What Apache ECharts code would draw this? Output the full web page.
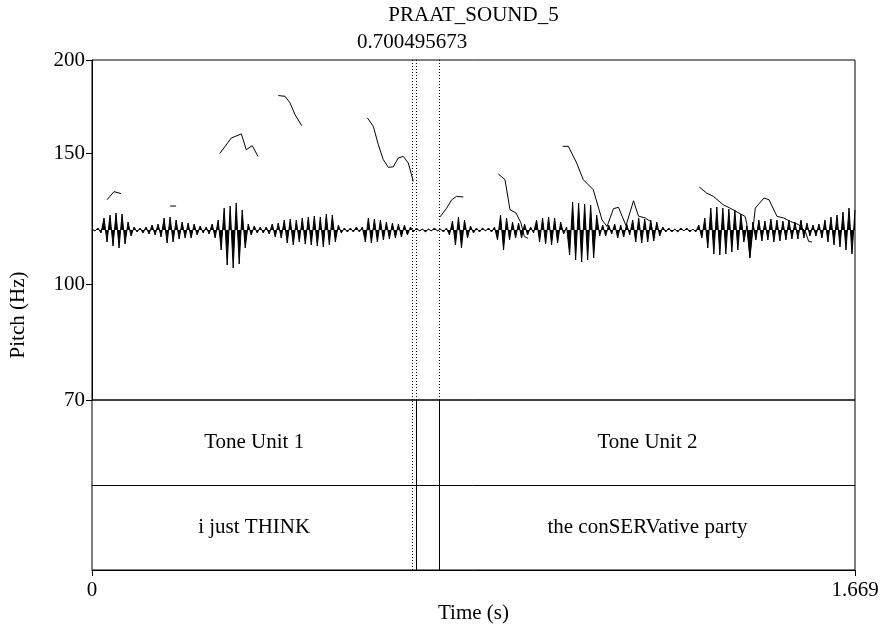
<!DOCTYPE html>
<html>
<head>
<meta charset="utf-8">
<script src="https://cdn.jsdelivr.net/npm/echarts@6/dist/echarts.min.js"></script>
<style>
  html, body { margin: 0; padding: 0; background: #fff; }
  #chart { width: 887px; height: 630px; }
</style>
</head>
<body>
<div id="chart"></div>
<script>
// --- data ---
const duration = 1.669
const cursorTime = 0.700495673
const pitchTicks = [70, 100, 150, 200]
const timeTicks = [0, 1.669]

// pitch contour pieces, [time s, Hz]
const pitchA = [[0.0328, 129.9], [0.0481, 133.2], [0.0634, 132.4]]
const pitchB = [[0.171, 127.4], [0.184, 127.4]]
const pitchC = [[0.2793, 149.8], [0.3047, 157.2], [0.3266, 159.2], [0.3375, 151.6], [0.3506, 153.5], [0.3631, 148.5]]
const pitchD = [[0.4075, 179.2], [0.4222, 178.8], [0.4331, 175.2], [0.4440, 169.0], [0.4587, 163.3]]
const pitchE = [[0.6022, 167.3], [0.6153, 163.0], [0.6263, 154.0], [0.6372, 147.0], [0.6481, 143.6], [0.6591, 143.8],
  [0.6700, 147.8], [0.6809, 148.5], [0.6919, 145.5], [0.7028, 137.5]]
const pitchF = [[0.7612, 123.2], [0.7759, 126.6], [0.7868, 129.9], [0.7977, 131.3], [0.8122, 131.0]]
const pitchG = [[0.8887, 140.7], [0.9034, 138.2], [0.9143, 126.0], [0.9275, 124.7], [0.9384, 120.9], [0.9456, 116.0], [0.9537, 115.3]]
const pitchH = [[1.0296, 153.2], [1.0419, 153.2], [1.0602, 145.5], [1.0747, 138.2], [1.0965, 134.0], [1.1156, 122.1],
  [1.1265, 119.6], [1.1407, 126.4], [1.1517, 126.9], [1.1681, 119.9], [1.1845, 129.5], [1.1954, 123.5],
  [1.2103, 122.8], [1.2212, 121.5], [1.2287, 116.0], [1.2322, 115.6]]
const pitchI = [[1.3284, 135.1], [1.3446, 132.6], [1.3590, 131.3], [1.3809, 127.9], [1.3956, 126.6], [1.4284, 123.4],
  [1.4321, 120.9], [1.4393, 109.0], [1.4509, 126.6], [1.4699, 130.6], [1.4809, 129.9], [1.4984, 123.4],
  [1.5130, 122.8], [1.5274, 121.5], [1.5458, 120.3], [1.5603, 117.8], [1.5677, 114.2], [1.5749, 114.0]]
const pitchPieces = [pitchA, pitchB, pitchC, pitchD, pitchE, pitchF, pitchG, pitchH, pitchI]

// waveform, one reading per display step (arbitrary amplitude units)
const waveAmp = [
  1, -1, 2, -3, 12, -12, 15, -16, 17, -18,
  16, -14, 8, -6, 3, -2, 2, -3, 3, -4,
  5, -5, 6, -7, 12, -13, 13, -12, 10, -9,
  8, -8, 7, -8, 6, -5, 4, -3, 3, -4,
  6, -8, 10, -20, 22, -35, 24, -38, 27, -34,
  20, -18, 6, -5, 4, -3, 3, -3, 3, -4,
  6, -7, 7, -8, 10, -13, 11, -15, 10, -12,
  12, -14, 13, -15, 14, -16, 13, -17, 16, -15,
  15, -12, 5, -3, 2, -2, 2, -2, 3, -2,
  3, -12, 12, -13, 11, -12, 10, -10, 8, -9,
  7, -8, 6, -7, 5, -5, 3, -2, 2, -1,
  1, -2, 1, -1, 2, -1, 1, -2, 2, -5,
  9, -15, 13, -18, 10, -8, 4, -3, 2, -2,
  2, -1, 2, -2, 3, -10, 15, -20, 12, -10,
  8, -8, 7, -8, 6, -5, 3, -3, 10, -12,
  12, -14, 13, -15, 12, -13, 8, -4, 3, -25,
  28, -30, 27, -32, 26, -30, 25, -28, 15, -6,
  5, -6, 5, -4, 6, -8, 5, -7, 6, -5,
  10, -12, 12, -13, 11, -12, 10, -11, 8, -6,
  3, -2, 2, -2, 1, -2, 2, -1, 2, -2,
  1, -2, 5, -8, 12, -18, 22, -24, 23, -25,
  22, -24, 21, -22, 20, -20, 16, -12, 4, -28,
  8, -10, 10, -11, 9, -10, 11, -12, 10, -11,
  9, -10, 10, -9, 8, -9, 10, -8, 7, -6,
  5, -6, 6, -8, 10, -12, 13, -15, 15, -17,
  18, -20, 22, -24, 20
]
const waveRange = 170

// TextGrid tiers: [start, end, label]
const tierToneUnits = [[0, 0.7094, 'Tone Unit 1'], [0.7094, 0.7612, ''], [0.7612, 1.669, 'Tone Unit 2']]
const tierWords = [[0, 0.7094, 'i just THINK'], [0.7094, 0.7612, ''], [0.7612, 1.669, 'the conSERVative party']]
const boundaries = [0.7094, 0.7612]

const font = 'Liberation Serif, Times New Roman, serif'
const fs = 21
const waveStep = duration / (waveAmp.length - 1)
const waveData = waveAmp.map((a, i) => [i * waveStep, a])

const tierText = []
;[tierToneUnits, tierWords].forEach((tier, row) => {
  tier.forEach(([s, e, txt]) => { if (txt) tierText.push([(s + e) / 2, 1.5 - row, txt]) })
})

const dotted = { color: '#000', width: 1, type: [1, 2] }
const solid = { color: '#000', width: 1, type: 'solid' }

const chart = echarts.init(document.getElementById('chart'), null, { renderer: 'canvas' })
chart.setOption({
  animation: false,
  textStyle: { fontFamily: font, color: '#000' },
  graphic: [
    { type: 'text', x: 473.5, y: 15, style: { text: 'PRAAT_SOUND_5', font: fs + 'px ' + font, fill: '#000', align: 'center', verticalAlign: 'middle' } },
    { type: 'text', x: 18, y: 315, rotation: Math.PI / 2, style: { text: 'Pitch (Hz)', font: fs + 'px ' + font, fill: '#000', align: 'center', verticalAlign: 'middle' } },
  ],
  grid: [
    { left: 92, top: 60, width: 763, height: 340, show: true, borderColor: '#000', borderWidth: 1, backgroundColor: 'transparent' },
    { left: 92, top: 400, width: 763, height: 170, show: true, borderColor: '#000', borderWidth: 1, backgroundColor: 'transparent' },
  ],
  xAxis: [
    { type: 'value', gridIndex: 0, min: 0, max: duration, show: false },
    {
      type: 'value', gridIndex: 1, min: 0, max: duration,
      name: 'Time (s)', nameLocation: 'middle', nameGap: 33,
      nameTextStyle: { fontSize: fs, fontFamily: font, color: '#000' },
      axisLine: { show: true, lineStyle: { color: '#000', width: 1 } },
      axisTick: { show: true, length: 6, customValues: timeTicks, lineStyle: { color: '#000' } },
      axisLabel: { customValues: timeTicks, fontSize: fs, fontFamily: font, color: '#000', margin: 10,
        formatter: v => String(v) },
      splitLine: { show: false },
    },
  ],
  yAxis: [
    {
      type: 'log', logBase: 10, gridIndex: 0, min: 70, max: 200,
      axisLine: { show: true, lineStyle: { color: '#000', width: 1 } },
      axisTick: { show: true, length: 6, customValues: pitchTicks, lineStyle: { color: '#000' } },
      axisLabel: { customValues: pitchTicks, fontSize: fs, fontFamily: font, color: '#000', margin: 7,
        formatter: v => String(Math.round(v)) },
      splitLine: { show: false },
    },
    { type: 'value', gridIndex: 0, min: -waveRange, max: waveRange, show: false },
    { type: 'value', gridIndex: 1, min: 0, max: 2, show: false },
  ],
  series: [
    {
      type: 'line', xAxisIndex: 0, yAxisIndex: 1, data: waveData, symbol: 'none', silent: true,
      lineStyle: { color: '#000', width: 1 },
      areaStyle: { color: '#000', origin: 0, opacity: 1 },
      markLine: {
        silent: true, symbol: ['none', 'none'], animation: false,
        label: { show: false },
        data: [
          { xAxis: cursorTime, lineStyle: dotted,
            label: { show: true, position: 'end', formatter: String(cursorTime), fontSize: fs, fontFamily: font, color: '#000', distance: 7 } },
          ...boundaries.map(b => ({ xAxis: b, lineStyle: dotted })),
        ],
      },
    },
    ...pitchPieces.map(p => ({
      type: 'line', xAxisIndex: 0, yAxisIndex: 0, data: p, symbol: 'none', silent: true,
      lineStyle: { color: '#000', width: 1 },
    })),
    {
      type: 'scatter', xAxisIndex: 1, yAxisIndex: 2, data: tierText, symbolSize: 0, silent: true,
      itemStyle: { opacity: 1 },
      label: { show: true, position: 'inside', formatter: p => p.data[2], fontSize: fs, fontFamily: font, color: '#000' },
      markLine: {
        silent: true, symbol: ['none', 'none'], animation: false, label: { show: false },
        data: [
          { yAxis: 1, lineStyle: solid },
          { xAxis: cursorTime, lineStyle: dotted },
          ...boundaries.map(b => ({ xAxis: b, lineStyle: solid })),
        ],
      },
    },
  ],
})
</script>
</body>
</html>
